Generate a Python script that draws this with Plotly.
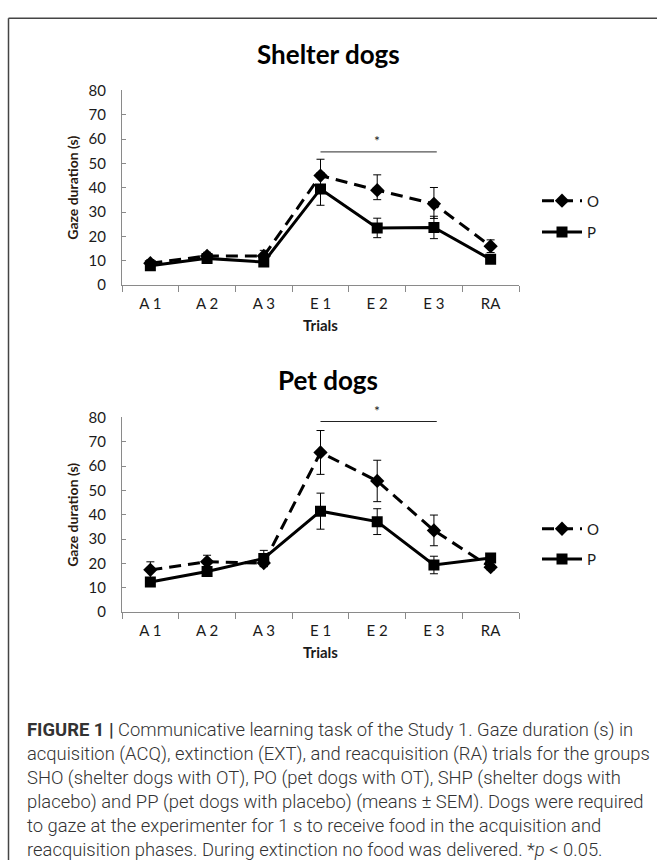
import plotly.graph_objects as go

trials = ["A 1", "A 2", "A 3", "E 1", "E 2", "E 3", "RA"]

shelter_O = [9.0, 12.0, 12.0, 45.0, 39.0, 33.4, 16.0]
shelter_O_err_plus = [1.5, 1.5, 2.3, 6.7, 6.3, 6.7, 2.6]
shelter_O_err_minus = [1.5, 1.5, 2.3, 6.7, 3.9, 6.0, 2.6]
shelter_P = [8.0, 11.0, 9.5, 39.5, 23.5, 23.7, 10.6]
shelter_P_err = [1.0, 1.5, 1.5, 6.7, 4.0, 4.6, 1.5]

pet_O = [17.4, 20.7, 20.2, 65.6, 53.9, 33.6, 18.5]
pet_O_err = [3.3, 2.7, 1.5, 9.0, 8.5, 6.3, 1.2]
pet_P = [12.4, 16.7, 22.1, 41.5, 37.2, 19.4, 22.3]
pet_P_err = [1.5, 1.5, 3.3, 7.4, 5.3, 3.6, 1.3]

sig_from, sig_to = 3, 5.05
shelter_sig_y, pet_sig_y = 54.7, 78.3
y_max = 80

titles = ["Shelter dogs", "Pet dogs"]
y_title = "Gaze duration (s)"
x_title = "Trials"
legend_names = ["O", "P"]

W, H = 657, 868
CF = "Lato, 'Open Sans', sans-serif"
TXT = "#1b1b1b"

fig = go.Figure()

def add_pair(o, o_plus, o_minus, p, p_err, xa, ya, lg_o, lg_p):
    fig.add_trace(go.Scatter(
        x=trials, y=o, name=legend_names[0], mode="lines+markers",
        line=dict(color="black", width=3, dash="12px,7px"),
        marker=dict(symbol="diamond", size=11, color="black"),
        error_y=dict(type="data", array=o_plus, arrayminus=o_minus, symmetric=False,
                     color="black", thickness=1, width=4),
        xaxis=xa, yaxis=ya, legend=lg_o))
    fig.add_trace(go.Scatter(
        x=trials, y=p, name=legend_names[1], mode="lines+markers",
        line=dict(color="black", width=3),
        marker=dict(symbol="square", size=11, color="black"),
        error_y=dict(type="data", array=p_err, color="black", thickness=1, width=4),
        xaxis=xa, yaxis=ya, legend=lg_p))

add_pair(shelter_O, shelter_O_err_plus, shelter_O_err_minus, shelter_P, shelter_P_err,
         "x", "y", "legend", "legend2")
add_pair(pet_O, pet_O_err, pet_O_err, pet_P, pet_P_err, "x2", "y2", "legend3", "legend4")

xdom = [122 / W, 519 / W]
top_dom = [1 - 281 / H, 1 - 82 / H]
bot_dom = [1 - 615 / H, 1 - 416 / H]

def xaxis(anchor):
    return dict(domain=xdom, anchor=anchor, type="category", range=[-0.5, 6.5],
                showline=True, linecolor="#8a8a8a", linewidth=1.3,
                ticks="outside", tickson="boundaries", ticklen=6, tickcolor="#8a8a8a",
                ticklabelstandoff=5,
                showgrid=False, zeroline=False,
                tickfont=dict(family=CF, size=15, color=TXT),
                title=dict(text="<b>" + x_title + "</b>", font=dict(family=CF, size=15, color=TXT),
                           standoff=9))

def yaxis(anchor, dom):
    return dict(domain=dom, anchor=anchor, range=[0, y_max], dtick=10,
                showline=True, linecolor="#8a8a8a", linewidth=1.3,
                ticks="inside", ticklen=4, tickcolor="#8a8a8a",
                ticklabelstandoff=12,
                showgrid=False, zeroline=False,
                tickfont=dict(family=CF, size=15, color=TXT),
                title=dict(text="<b>" + y_title + "</b>", font=dict(family=CF, size=14, color="#2a1a10"),
                           standoff=6))

def leg(ypx):
    return dict(x=537 / W, xanchor="left", y=1 - ypx / H, yanchor="middle",
                bgcolor="rgba(0,0,0,0)", font=dict(family=CF, size=15, color=TXT),
                itemwidth=40)

annotations = [
    dict(text="<b>" + titles[0] + "</b>", x=328 / W, y=1 - 45 / H, xref="paper", yref="paper",
         yanchor="middle", showarrow=False, font=dict(family=CF, size=26, color="black")),
    dict(text="<b>" + titles[1] + "</b>", x=328 / W, y=1 - 378 / H, xref="paper", yref="paper",
         yanchor="middle", showarrow=False, font=dict(family=CF, size=26, color="black")),
    dict(text="*", x=4, y=(shelter_sig_y + 4.5) / y_max, xref="x", yref="y domain", showarrow=False,
         yanchor="middle", font=dict(family=CF, size=14, color=TXT)),
    dict(text="*", x=4, y=(pet_sig_y + 4.5) / y_max, xref="x2", yref="y2 domain", showarrow=False,
         yanchor="middle", font=dict(family=CF, size=14, color=TXT)),
]

caption = ("<b>FIGURE 1 |</b> Communicative learning task of the Study 1. Gaze duration (s) in<br>"
           "acquisition (ACQ), extinction (EXT), and reacquisition (RA) trials for the groups<br>"
           "SHO (shelter dogs with OT), PO (pet dogs with OT), SHP (shelter dogs with<br>"
           "placebo) and PP (pet dogs with placebo) (means \u00b1 SEM). Dogs were required<br>"
           "to gaze at the experimenter for 1 s to receive food in the acquisition and<br>"
           "reacquisition phases. During extinction no food was delivered. *<i>p</i> &lt; 0.05.")
annotations.append(dict(text=caption, x=25 / W, y=1 - 722 / H, xref="paper", yref="paper",
                        xanchor="left", yanchor="top", align="left", showarrow=False,
                        font=dict(family="Roboto, 'Liberation Sans', sans-serif", size=18.4,
                                  color="#333333", weight=300)))

shapes = [
    dict(type="line", xref="x", yref="y", x0=sig_from, x1=sig_to, y0=shelter_sig_y, y1=shelter_sig_y,
         line=dict(color="#555555", width=1.2)),
    dict(type="line", xref="x2", yref="y2", x0=sig_from, x1=sig_to, y0=pet_sig_y, y1=pet_sig_y,
         line=dict(color="#222222", width=1.2)),
    dict(type="line", xref="paper", yref="paper", x0=8.5 / W, x1=1, y0=1 - 8.5 / H, y1=1 - 8.5 / H,
         line=dict(color="#444444", width=1.5)),
    dict(type="line", xref="paper", yref="paper", x0=8.5 / W, x1=8.5 / W, y0=0, y1=1 - 8.5 / H,
         line=dict(color="#444444", width=1.5)),
]

fig.update_layout(
    width=W, height=H, margin=dict(l=0, r=0, t=0, b=0),
    paper_bgcolor="white", plot_bgcolor="white",
    showlegend=True,
    xaxis=xaxis("y"), yaxis=yaxis("x", top_dom),
    xaxis2=xaxis("y2"), yaxis2=yaxis("x2", bot_dom),
    legend=leg(195), legend2=leg(227), legend3=leg(530), legend4=leg(561),
    annotations=annotations, shapes=shapes,
)

fig.write_html("out.html", config={"displayModeBar": False},
               post_script="document.body.style.margin='0';document.body.style.overflow='hidden';")
